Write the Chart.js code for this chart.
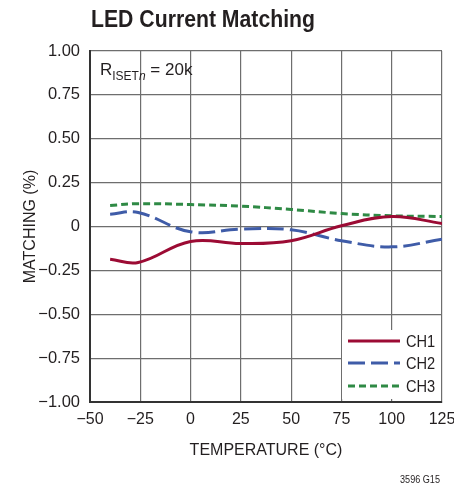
<!DOCTYPE html>
<html>
<head>
<meta charset="utf-8">
<script src="https://cdn.jsdelivr.net/npm/chart.js@4"></script>
<style>
  body { margin: 0; background: #fff; }
</style>
</head>
<body>
<canvas id="chartCanvas" width="454" height="487"></canvas>
<script>
const temps = [-40, -26, 0, 25, 50, 75, 100, 125];
const ch1 = [-0.186, -0.205, -0.085, -0.097, -0.081, 0.004, 0.057, 0.017];
const ch2 = [0.07, 0.08, -0.03, -0.015, -0.019, -0.081, -0.116, -0.072];
const ch3 = [0.12, 0.13, 0.125, 0.116, 0.097, 0.074, 0.061, 0.057];
const seriesNames = ["CH1", "CH2", "CH3"];
const xTicks = [-50, -25, 0, 25, 50, 75, 100, 125];
const yTicks = [-1, -0.75, -0.5, -0.25, 0, 0.25, 0.5, 0.75, 1];

const colors = ["#9c0b34", "#3f5ca8", "#2f8a45"];
const dashes = [[], [17, 6], [7, 4]];

function pts(vals) {
  return temps.map((t, i) => ({ x: t, y: vals[i] }));
}

function fmtY(v) {
  if (Math.abs(v) < 1e-9) return "0";
  return v.toFixed(2).replace("-", "\u2212");
}

// draws text squeezed horizontally, like the condensed face in the original
function narrowText(ctx, text, x, y, squeeze) {
  ctx.save();
  ctx.translate(x, y);
  ctx.scale(squeeze, 1);
  ctx.fillText(text, 0, 0);
  ctx.restore();
}

const decor = {
  id: "decor",
  afterDraw(chart) {
    const ctx = chart.ctx;
    ctx.save();
    ctx.fillStyle = "#231f20";
    ctx.textAlign = "left";
    ctx.textBaseline = "alphabetic";

    // title
    ctx.font = "bold 24px 'Liberation Sans'";
    const tw = ctx.measureText("LED Current Matching").width;
    narrowText(ctx, "LED Current Matching", 91, 27, 224 / tw);

    // annotation R_ISETn = 20k
    let x = 100;
    ctx.font = "17px 'Liberation Sans'";
    ctx.fillText("R", x, 75);
    x += ctx.measureText("R").width;
    ctx.font = "12px 'Liberation Sans'";
    ctx.fillText("ISET", x, 80);
    x += ctx.measureText("ISET").width;
    ctx.font = "italic 12px 'Liberation Sans'";
    ctx.fillText("n", x, 80);
    x += ctx.measureText("n").width;
    ctx.font = "17px 'Liberation Sans'";
    ctx.fillText(" = 20k", x, 75);

    // legend
    ctx.fillStyle = "#fff";
    ctx.fillRect(342, 330, 99, 69);
    const ly = [341, 363, 386];
    seriesNames.forEach((name, i) => {
      ctx.strokeStyle = colors[i];
      ctx.lineWidth = 3;
      ctx.setLineDash(dashes[i]);
      ctx.beginPath();
      ctx.moveTo(348, ly[i]);
      ctx.lineTo(400, ly[i]);
      ctx.stroke();
      ctx.setLineDash([]);
      ctx.fillStyle = "#231f20";
      ctx.font = "17px 'Liberation Sans'";
      ctx.textBaseline = "middle";
      narrowText(ctx, name, 406, ly[i] + 1, 0.86);
    });

    // figure code
    ctx.font = "11px 'Liberation Sans'";
    ctx.textBaseline = "middle";
    ctx.fillStyle = "#231f20";
    const fw = ctx.measureText("3596 G15").width;
    narrowText(ctx, "3596 G15", 400, 480, 40 / fw);
    ctx.restore();
  }
};

const ctx = document.getElementById("chartCanvas").getContext("2d");
Chart.defaults.font.family = "'Liberation Sans'";
Chart.defaults.color = "#231f20";

new Chart(ctx, {
  type: "line",
  data: {
    datasets: [ch1, ch2, ch3].map((vals, i) => ({
      label: seriesNames[i],
      data: pts(vals),
      borderColor: colors[i],
      borderWidth: 3,
      borderDash: dashes[i],
      pointRadius: 0,
      tension: 0.4,
      fill: false
    }))
  },
  options: {
    responsive: false,
    animation: false,
    layout: { padding: { top: 51, right: 12, left: 0, bottom: 0 } },
    plugins: { legend: { display: false }, tooltip: { enabled: false } },
    scales: {
      x: {
        type: "linear",
        min: -50,
        max: 125,
        afterBuildTicks: s => { s.ticks = xTicks.map(v => ({ value: v })); },
        afterFit: s => { s.height = 85; s.paddingLeft = 0; s.paddingRight = 0; },
        ticks: { font: { size: 16 }, padding: 8, callback: v => String(v).replace("-", "\u2212") },
        grid: { color: "#6e6e6e", lineWidth: 1.2, drawTicks: false },
        border: { color: "#333", width: 2 },
        title: { display: true, text: "TEMPERATURE (\u00b0C)", font: { size: 16 }, padding: { top: 0, bottom: 27 } }
      },
      y: {
        min: -1,
        max: 1,
        afterBuildTicks: s => { s.ticks = yTicks.map(v => ({ value: v })); },
        afterFit: s => { s.width = 90; s.paddingTop = 0; s.paddingBottom = 0; },
        ticks: { font: { size: 16.5 }, padding: 10, callback: v => fmtY(v) },
        grid: { color: "#6e6e6e", lineWidth: 1.2, drawTicks: false },
        border: { color: "#333", width: 2 },
        title: { display: true, text: "MATCHING (%)", font: { size: 16 }, padding: { top: 21, bottom: 0 } }
      }
    }
  },
  plugins: [decor]
});
</script>
</body>
</html>
